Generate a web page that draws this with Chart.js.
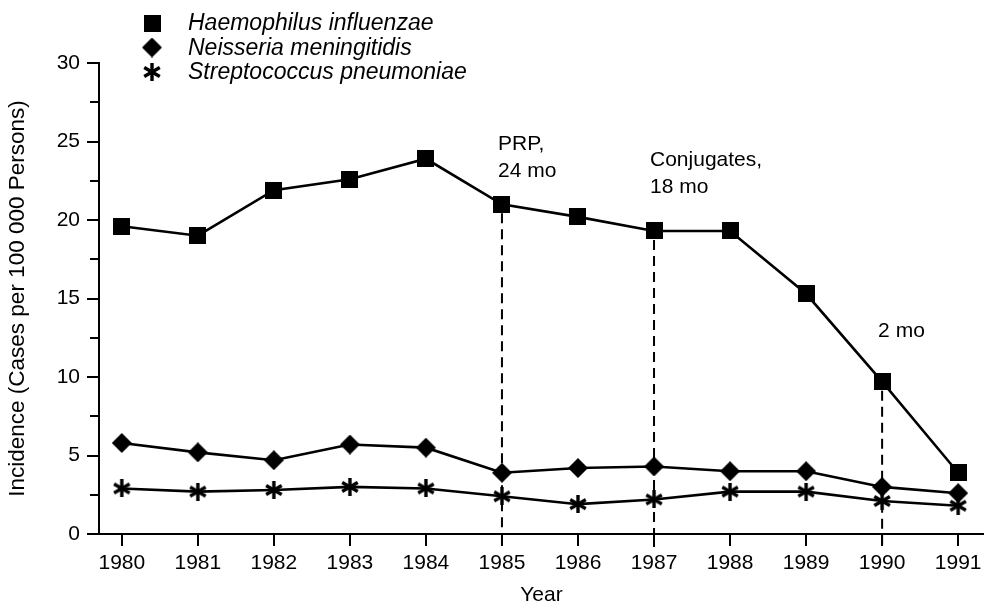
<!doctype html>
<html lang="en">
<head>
  <meta charset="utf-8">
  <title>Incidence of bacterial meningitis 1980–1991</title>
  <style>
    html, body { margin: 0; padding: 0; background: #fff; }
    #wrap { position: relative; width: 984px; height: 608px; }
  </style>
</head>
<body>
  <div id="wrap"><canvas id="chart" width="984" height="608"></canvas></div>

  <script src="https://cdn.jsdelivr.net/npm/chart.js"></script>
  <script>
    const years       = [1980, 1981, 1982, 1983, 1984, 1985, 1986, 1987, 1988, 1989, 1990, 1991];
    const haemophilus = [19.6, 19.0, 21.9, 22.6, 23.9, 21.0, 20.2, 19.3, 19.3, 15.3, 9.7, 3.9];
    const neisseria   = [5.8, 5.2, 4.7, 5.7, 5.5, 3.9, 4.2, 4.3, 4.0, 4.0, 3.0, 2.6];
    const strep       = [2.9, 2.7, 2.8, 3.0, 2.9, 2.4, 1.9, 2.2, 2.7, 2.7, 2.1, 1.8];
    const seriesNames = ['Haemophilus influenzae', 'Neisseria meningitidis', 'Streptococcus pneumoniae'];
    const yTicks      = [0, 5, 10, 15, 20, 25, 30];
    const yMinorTicks = [2.5, 7.5, 12.5, 17.5, 22.5, 27.5];

    // vaccine milestones: dashed drop line at these years, with their labels
    const milestoneYears  = [1985, 1987, 1990];
    const milestoneText   = [['PRP,', '24 mo'], ['Conjugates,', '18 mo'], ['2 mo']];
    const milestoneLabelY = [24.85, 23.8, 12.9];

    const FONT = "'Liberation Sans', Arial, sans-serif";

    // point markers drawn once on small canvases
    function marker(kind) {
      const size = kind === 'square' ? 17 : kind === 'diamond' ? 20 : 18;
      const c = document.createElement('canvas');
      c.width = c.height = size;
      const g = c.getContext('2d');
      g.fillStyle = g.strokeStyle = '#000';
      const m = size / 2;
      if (kind === 'square') {
        g.fillRect(0, 0, size, size);
      } else if (kind === 'diamond') {
        g.beginPath();
        g.moveTo(m, 0); g.lineTo(size, m); g.lineTo(m, size); g.lineTo(0, m);
        g.closePath(); g.fill();
      } else {
        g.lineWidth = 3.4;
        for (let i = 0; i < 3; i++) {
          const a = Math.PI / 2 + i * Math.PI / 3;
          g.beginPath();
          g.moveTo(m + Math.cos(a) * m, m + Math.sin(a) * m);
          g.lineTo(m - Math.cos(a) * m, m - Math.sin(a) * m);
          g.stroke();
        }
      }
      return c;
    }
    const markers = [marker('square'), marker('diamond'), marker('asterisk')];

    const overlay = {
      id: 'overlay',
      beforeDatasetsDraw(chart) {
        const { ctx, scales: { x, y } } = chart;
        ctx.save();
        ctx.strokeStyle = '#000';
        ctx.lineWidth = 2;
        // short minor ticks on the y axis
        yMinorTicks.forEach(v => {
          const py = Math.round(y.getPixelForValue(v));
          ctx.beginPath();
          ctx.moveTo(x.left - 9, py);
          ctx.lineTo(x.left, py);
          ctx.stroke();
        });
        ctx.setLineDash([10, 6]);
        milestoneYears.forEach(yr => {
          const px = x.getPixelForValue(yr);
          const v = haemophilus[years.indexOf(yr)];
          ctx.beginPath();
          ctx.moveTo(px, y.getPixelForValue(v) + 9);
          ctx.lineTo(px, y.bottom + 13);
          ctx.stroke();
        });
        ctx.restore();
      },
      afterDraw(chart) {
        const { ctx, scales: { x, y } } = chart;
        ctx.save();
        ctx.fillStyle = '#000';
        ctx.textBaseline = 'middle';
        ctx.font = '21px ' + FONT;
        milestoneYears.forEach((yr, i) => {
          const px = x.getPixelForValue(yr) - 4;
          const py = y.getPixelForValue(milestoneLabelY[i]);
          milestoneText[i].forEach((t, j) => ctx.fillText(t, px, py + j * 27));
        });
        // legend
        ctx.font = 'italic 23px ' + FONT;
        seriesNames.forEach((name, i) => {
          const cy = 23 + i * 24.5;
          const img = markers[i];
          ctx.drawImage(img, 152 - img.width / 2, cy - img.height / 2);
          ctx.fillText(name, 188, cy + 1);
        });
        ctx.restore();
      }
    };

    const line = (data, i) => ({
      label: seriesNames[i],
      data: years.map((yr, k) => ({ x: yr, y: data[k] })),
      borderColor: '#000',
      borderWidth: 2.6,
      pointStyle: markers[i],
      pointRadius: 10,
      tension: 0
    });

    new Chart(document.getElementById('chart'), {
      type: 'line',
      data: { datasets: [line(haemophilus, 0), line(neisseria, 1), line(strep, 2)] },
      options: {
        responsive: false,
        animation: false,
        layout: { autoPadding: false, padding: { top: 63, right: 0, left: 0, bottom: 0 } },
        plugins: { legend: { display: false }, tooltip: { enabled: false } },
        events: [],
        scales: {
          x: {
            type: 'linear',
            min: 1979.7,
            max: 1991.34,
            afterBuildTicks: s => { s.ticks = years.map(v => ({ value: v })); },
            afterFit: s => { s.height = 74; s.paddingLeft = 0; s.paddingRight = 0; },
            ticks: { color: '#000', font: { family: FONT, size: 21 }, padding: 5, callback: v => String(v), maxRotation: 0, autoSkip: false },
            grid: { drawOnChartArea: false, drawTicks: true, tickLength: 12, color: '#000', lineWidth: 2 },
            border: { color: '#000', width: 2 },
            title: { display: true, text: 'Year', color: '#000', font: { family: FONT, size: 21 }, padding: { top: 0, bottom: 0 } }
          },
          y: {
            min: 0,
            max: 30,
            afterBuildTicks: s => { s.ticks = yTicks.map(v => ({ value: v })); },
            afterFit: s => { s.width = 99; },
            ticks: { color: '#000', font: { family: FONT, size: 21 }, padding: 7 },
            grid: { drawOnChartArea: false, drawTicks: true, tickLength: 12, color: '#000', lineWidth: 2 },
            border: { color: '#000', width: 2 },
            title: { display: true, text: 'Incidence (Cases per 100 000 Persons)', color: '#000', font: { family: FONT, size: 22.5 }, padding: { top: 4, bottom: 0 } }
          }
        }
      },
      plugins: [overlay]
    });
  </script>
</body>
</html>
